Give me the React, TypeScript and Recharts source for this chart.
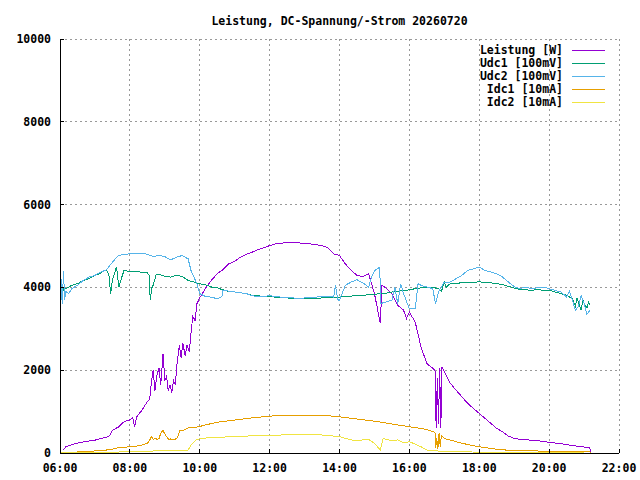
import React from "react";
import { LineChart, Line, XAxis, YAxis, CartesianGrid, Legend } from "recharts";

type Pt = [string, number];

const title = "Leistung, DC-Spannung/-Strom 20260720";
const hourTicks = [6, 8, 10, 12, 14, 16, 18, 20, 22];
const valueTicks = [0, 2000, 4000, 6000, 8000, 10000];

const leistung: Pt[] = [
  ["06:05", 70], ["06:10", 150], ["06:20", 200], ["06:30", 240], ["06:40", 265], ["06:50", 290],
  ["07:00", 310], ["07:10", 350], ["07:20", 385], ["07:25", 420], ["07:30", 550], ["07:40", 625],
  ["07:50", 755], ["08:00", 800], ["08:05", 850], ["08:08", 640], ["08:12", 880], ["08:20", 1020],
  ["08:30", 1240], ["08:34", 1300], ["08:37", 1700], ["08:40", 2000], ["08:43", 1500], ["08:46", 1850],
  ["08:50", 2050], ["08:53", 1650], ["08:57", 2400], ["09:00", 1750], ["09:03", 1850], ["09:06", 1500],
  ["09:09", 1650], ["09:12", 1450], ["09:15", 1750], ["09:18", 1650], ["09:21", 2150], ["09:25", 2600],
  ["09:28", 2300], ["09:31", 2650], ["09:35", 2350], ["09:38", 2600], ["09:42", 2450], ["09:45", 2900],
  ["09:48", 3300], ["09:52", 3200], ["09:55", 3600], ["10:00", 3750], ["10:10", 3980], ["10:20", 4170],
  ["10:30", 4330], ["10:40", 4430], ["10:50", 4570], ["11:00", 4630], ["11:10", 4730], ["11:20", 4800],
  ["11:30", 4850], ["11:40", 4915], ["11:50", 4955], ["12:00", 5010], ["12:10", 5050], ["12:20", 5070],
  ["12:30", 5080], ["12:40", 5090], ["12:50", 5075], ["13:00", 5060], ["13:10", 5050], ["13:20", 5030],
  ["13:30", 5010], ["13:40", 4960], ["13:50", 4810], ["14:00", 4770], ["14:10", 4570], ["14:20", 4410],
  ["14:30", 4290], ["14:40", 4265], ["14:50", 4330], ["15:00", 3850], ["15:05", 3500], ["15:10", 3130],
  ["15:13", 4050], ["15:20", 3980], ["15:30", 3850], ["15:40", 3570], ["15:50", 3450], ["15:55", 3250],
  ["16:00", 3400], ["16:10", 3165], ["16:20", 2560], ["16:30", 2160], ["16:40", 2050], ["16:44", 2000],
  ["16:46", 600], ["16:48", 1800], ["16:50", 700], ["16:52", 2050], ["16:54", 600], ["16:56", 2080],
  ["17:00", 1960], ["17:10", 1690], ["17:20", 1520], ["17:30", 1360], ["17:40", 1200], ["17:50", 1075],
  ["18:00", 955], ["18:10", 835], ["18:20", 715], ["18:30", 595], ["18:40", 515], ["18:50", 410],
  ["19:00", 350], ["19:10", 330], ["19:20", 320], ["19:30", 310], ["19:40", 300], ["19:50", 275],
  ["20:00", 260], ["20:10", 240], ["20:20", 225], ["20:30", 200], ["20:40", 185], ["20:50", 160],
  ["21:00", 145], ["21:10", 120], ["21:12", 0],
];

const udc1: Pt[] = [
  ["06:00", 3900], ["06:02", 4100], ["06:04", 3800], ["06:06", 4000], ["06:10", 3970], ["06:20", 4050],
  ["06:30", 4090], ["06:40", 4170], ["06:50", 4210], ["07:00", 4290], ["07:10", 4345], ["07:15", 4400],
  ["07:20", 4410], ["07:24", 4300], ["07:27", 3850], ["07:30", 4170], ["07:37", 4500], ["07:41", 4000],
  ["07:45", 4200], ["07:50", 4410], ["08:00", 4385], ["08:10", 4380], ["08:20", 4370], ["08:30", 4350],
  ["08:33", 4300], ["08:35", 3700], ["08:38", 4000], ["08:40", 4050], ["08:45", 4300], ["08:50", 4320],
  ["09:00", 4265], ["09:10", 4250], ["09:20", 4290], ["09:30", 4265], ["09:40", 4170], ["09:50", 4130],
  ["10:00", 4090], ["10:10", 4060], ["10:20", 4010], ["10:30", 3990], ["10:40", 3940], ["10:50", 3900],
  ["11:00", 3890], ["11:10", 3870], ["11:20", 3850], ["11:30", 3810], ["11:40", 3800], ["11:50", 3780],
  ["12:00", 3780], ["12:10", 3765], ["12:20", 3750], ["12:30", 3745], ["12:40", 3740], ["12:50", 3725],
  ["13:00", 3725], ["13:10", 3740], ["13:20", 3740], ["13:30", 3745], ["13:40", 3750], ["13:50", 3765],
  ["14:00", 3765], ["14:10", 3780], ["14:20", 3790], ["14:30", 3800], ["14:40", 3810], ["14:50", 3820],
  ["15:00", 3830], ["15:10", 3850], ["15:20", 3860], ["15:30", 3890], ["15:40", 3900], ["15:50", 3930],
  ["16:00", 3940], ["16:10", 3970], ["16:20", 3990], ["16:30", 4000], ["16:40", 4000], ["16:50", 3970],
  ["16:55", 3900], ["17:00", 4130], ["17:03", 4000], ["17:10", 4090], ["17:20", 4100], ["17:30", 4110],
  ["17:40", 4120], ["17:50", 4120], ["18:00", 4135], ["18:10", 4120], ["18:20", 4110], ["18:30", 4090],
  ["18:40", 4070], ["18:50", 4025], ["19:00", 3985], ["19:10", 3950], ["19:20", 3940], ["19:30", 3930],
  ["19:40", 3950], ["19:50", 3930], ["20:00", 3930], ["20:10", 3890], ["20:20", 3850], ["20:30", 3810],
  ["20:40", 3725], ["20:45", 3550], ["20:48", 3750], ["20:50", 3650], ["20:55", 3450], ["20:58", 3700],
  ["21:00", 3610], ["21:05", 3500], ["21:08", 3650], ["21:10", 3570],
];

const udc2: Pt[] = [
  ["06:00", 4100], ["06:01", 3400], ["06:03", 4200], ["06:04", 3600], ["06:06", 4400], ["06:08", 3700],
  ["06:10", 3900], ["06:15", 3850], ["06:20", 3970], ["06:30", 4050], ["06:40", 4170], ["06:50", 4250],
  ["07:00", 4290], ["07:10", 4370], ["07:20", 4425], ["07:30", 4610], ["07:40", 4770], ["07:50", 4800],
  ["08:00", 4810], ["08:10", 4830], ["08:20", 4830], ["08:30", 4800], ["08:40", 4745], ["08:50", 4770],
  ["09:00", 4745], ["09:10", 4665], ["09:20", 4730], ["09:30", 4770], ["09:40", 4690], ["09:45", 4410],
  ["09:50", 4250], ["09:55", 4090], ["10:00", 3850], ["10:10", 3780], ["10:20", 3765], ["10:30", 3725],
  ["10:38", 3780], ["10:40", 3930], ["10:50", 3910], ["11:00", 3890], ["11:10", 3870], ["11:20", 3850],
  ["11:30", 3800], ["11:40", 3780], ["11:50", 3780], ["12:00", 3800], ["12:10", 3780], ["12:20", 3765],
  ["12:30", 3765], ["12:40", 3750], ["12:50", 3725], ["13:00", 3745], ["13:10", 3745], ["13:20", 3765],
  ["13:30", 3780], ["13:40", 3790], ["13:50", 3765], ["13:53", 4050], ["13:57", 3700], ["14:00", 3690],
  ["14:10", 4050], ["14:20", 4130], ["14:30", 4185], ["14:40", 4110], ["14:50", 4010], ["14:55", 4250],
  ["15:00", 4400], ["15:09", 4490], ["15:11", 3610], ["15:20", 3650], ["15:30", 3690], ["15:35", 4010],
  ["15:40", 3610], ["15:45", 4090], ["15:50", 3850], ["16:00", 3485], ["16:10", 3485], ["16:15", 4090],
  ["16:20", 4050], ["16:30", 4010], ["16:40", 3970], ["16:45", 3610], ["16:50", 3890], ["17:00", 4130],
  ["17:10", 4130], ["17:20", 4210], ["17:30", 4290], ["17:40", 4410], ["17:50", 4450], ["18:00", 4490],
  ["18:10", 4410], ["18:20", 4370], ["18:30", 4330], ["18:40", 4250], ["18:50", 4130], ["19:00", 4020],
  ["19:10", 3970], ["19:20", 4010], ["19:30", 3970], ["19:40", 3990], ["19:50", 4010], ["20:00", 3970],
  ["20:10", 3930], ["20:20", 3890], ["20:30", 3770], ["20:35", 3900], ["20:40", 3690], ["20:45", 3450],
  ["20:50", 3530], ["20:55", 3800], ["21:00", 3610], ["21:05", 3350], ["21:10", 3450],
];

const idc1: Pt[] = [
  ["06:00", 0], ["06:30", 25], ["07:00", 50], ["07:10", 55], ["07:30", 90], ["07:40", 130], ["08:00", 150],
  ["08:10", 160], ["08:20", 190], ["08:30", 235], ["08:34", 310], ["08:37", 400], ["08:40", 330],
  ["08:44", 360], ["08:47", 320], ["08:50", 350], ["08:54", 510], ["08:57", 540], ["09:00", 460],
  ["09:03", 400], ["09:07", 320], ["09:10", 340], ["09:14", 310], ["09:18", 330], ["09:22", 380],
  ["09:26", 550], ["09:31", 540], ["09:36", 580], ["09:43", 630], ["09:50", 615], ["10:00", 640],
  ["10:10", 680], ["10:20", 710], ["10:30", 745], ["10:40", 760], ["11:00", 795], ["11:30", 850],
  ["12:00", 890], ["12:30", 915], ["13:00", 915], ["13:30", 915], ["14:00", 875], ["14:30", 820],
  ["15:00", 770], ["15:30", 700], ["16:00", 635], ["16:30", 570], ["16:40", 515], ["16:44", 500],
  ["16:45", 110], ["16:47", 350], ["16:49", 100], ["16:51", 470], ["16:53", 150], ["16:55", 430],
  ["17:00", 350], ["17:10", 315], ["17:30", 235], ["18:00", 150], ["18:30", 90], ["19:00", 55],
  ["19:30", 50], ["20:00", 45], ["20:30", 40], ["21:00", 35], ["21:10", 30], ["21:12", 0],
];

const idc2: Pt[] = [
  ["06:00", 0], ["07:00", 10], ["08:00", 30], ["08:30", 45], ["09:00", 55], ["09:30", 55], ["09:40", 70],
  ["09:45", 190], ["09:50", 270], ["09:54", 315], ["10:03", 355], ["10:30", 380], ["11:00", 395],
  ["11:30", 415], ["12:00", 425], ["12:30", 440], ["13:00", 445], ["13:30", 435], ["14:00", 395],
  ["14:10", 355], ["14:20", 315], ["14:30", 300], ["14:40", 315], ["14:50", 330], ["15:00", 235],
  ["15:10", 70], ["15:15", 355], ["15:20", 330], ["15:30", 300], ["15:40", 315], ["15:50", 250],
  ["16:00", 270], ["16:10", 215], ["16:20", 150], ["16:30", 70], ["16:40", 55], ["17:00", 40],
  ["17:30", 30], ["18:00", 20], ["19:00", 10], ["20:00", 5], ["21:00", 0],
];

const toHours = (s: string) => {
  const [h, m] = s.split(":").map(Number);
  return h + m / 60;
};
const rows = (pts: Pt[]) => pts.map(([t, v]) => ({ t: toHours(t), v }));

const series = [
  { name: "Leistung [W]", color: "#9400D3", data: rows(leistung) },
  { name: "Udc1 [100mV]", color: "#009E73", data: rows(udc1) },
  { name: "Udc2 [100mV]", color: "#56B4E9", data: rows(udc2) },
  { name: "Idc1 [10mA]", color: "#E69F00", data: rows(idc1) },
  { name: "Idc2 [10mA]", color: "#F0E442", data: rows(idc2) },
];

const font = "'DejaVu Sans Mono', monospace";
const tickStyle = { fill: "#000", fontSize: 11.5, fontWeight: "bold", fontFamily: font };
const fmtHour = (h: number) => `${String(h).padStart(2, "0")}:00`;

function KeyBox() {
  return (
    <div style={{ fontFamily: font, fontSize: 11.5, fontWeight: "bold", color: "#000" }}>
      {series.map((s) => (
        <div key={s.name} style={{ display: "flex", justifyContent: "flex-end", alignItems: "center", height: 13 }}>
          <span style={{ whiteSpace: "pre", lineHeight: "13px" }}>{s.name}</span>
          <span style={{ display: "inline-block", width: 33, height: 1, marginLeft: 9, background: s.color }} />
        </div>
      ))}
    </div>
  );
}

export default function App() {
  return (
    <div style={{ position: "absolute", left: 0, top: 0 }}>
      <LineChart width={640} height={480} margin={{ top: 39, right: 21, bottom: 0, left: 0 }}>
        <text x={339.5} y={25} textAnchor="middle" fontFamily={font} fontSize={11.5} fontWeight="bold" fill="#000">
          {title}
        </text>
        <CartesianGrid stroke="#999" strokeDasharray="2 3" shapeRendering="crispEdges" />
        <XAxis
          dataKey="t"
          type="number"
          domain={[6, 22]}
          ticks={hourTicks}
          tickFormatter={fmtHour}
          height={27}
          tickSize={-4}
          tickMargin={15}
          axisLine={{ stroke: "#000", shapeRendering: "crispEdges" }}
          tickLine={{ stroke: "#000", shapeRendering: "crispEdges" }}
          tick={tickStyle}
          allowDataOverflow
        />
        <XAxis
          xAxisId="top"
          orientation="top"
          type="number"
          domain={[6, 22]}
          ticks={hourTicks}
          height={0}
          tickSize={-4}
          tick={false}
          axisLine={{ stroke: "#000", shapeRendering: "crispEdges" }}
          tickLine={{ stroke: "#000", shapeRendering: "crispEdges" }}
        />
        <YAxis
          type="number"
          domain={[0, 10000]}
          ticks={valueTicks}
          width={60}
          tickSize={-4}
          tickMargin={13}
          axisLine={{ stroke: "#000", shapeRendering: "crispEdges" }}
          tickLine={{ stroke: "#000", shapeRendering: "crispEdges" }}
          tick={tickStyle}
          allowDataOverflow
        />
        <YAxis
          yAxisId="right"
          orientation="right"
          type="number"
          domain={[0, 10000]}
          ticks={valueTicks}
          width={0}
          tickSize={-4}
          tick={false}
          axisLine={{ stroke: "#000", shapeRendering: "crispEdges" }}
          tickLine={{ stroke: "#000", shapeRendering: "crispEdges" }}
        />
        <Legend
          layout="vertical"
          align="center"
          verticalAlign="middle"
          content={() => <KeyBox />}
          wrapperStyle={{ top: 44, left: 440, width: 165 }}
        />
        {series.map((s) => (
          <Line
            key={s.name}
            name={s.name}
            data={s.data}
            dataKey="v"
            type="linear"
            stroke={s.color}
            strokeWidth={1}
            shapeRendering="crispEdges"
            dot={false}
            activeDot={false}
            isAnimationActive={false}
          />
        ))}
      </LineChart>
    </div>
  );
}
